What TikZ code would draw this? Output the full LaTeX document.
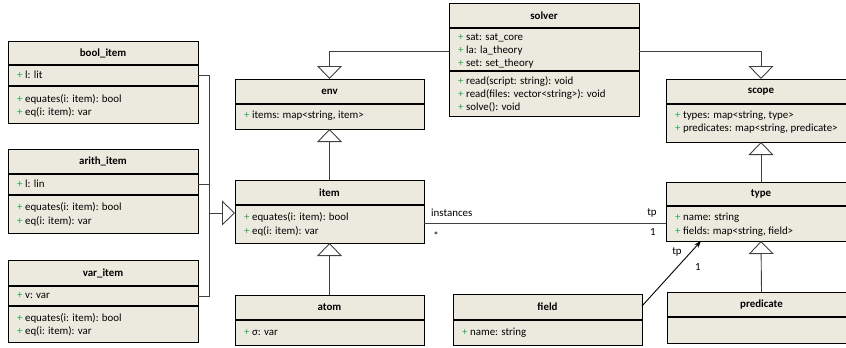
\documentclass[tikz,border=0pt]{standalone}
\usepackage{fontspec}
\setmainfont{Carlito}
\usetikzlibrary{arrows.meta,fit}

\definecolor{classbg}{HTML}{ECEADF}
\definecolor{umlgreen}{RGB}{40,170,80}
\definecolor{linkgray}{HTML}{404040}

\newcommand{\plus}{{\color{umlgreen}+}\ }

% #1 node name, #2..#5 corners, #6 header bottom, #7 class name
\newcommand{\classbox}[7]{%
  \fill[classbg] (#2,#3) rectangle (#4,#5);
  \node[inner sep=0pt, outer sep=0pt, fit={(#2,#3) (#4,#5)}] (#1) {};
  \draw[border] (#2,#3) rectangle (#4,#5);
  \draw[rule] (#2,#6) -- (#4,#6);
  \node[classtitle] at ({(#2+#4)/2},{(#3+#6)/2}) {#7};
}
% #1 x1, #2 x2, #3 y : compartment divider
\newcommand{\divider}[3]{\draw[rule] (#1,#3) -- (#2,#3);}
% #1 x, #2 y, #3 text
\newcommand{\member}[3]{\node[membertext] at (#1+9,#2) {\plus #3};}

\begin{document}
\begin{tikzpicture}[x=1pt,y=-1pt,
  border/.style={draw=black, line width=0.8pt},
  rule/.style={draw=black, line width=1.1pt},
  classtitle/.style={font=\fontsize{10.9}{12}\selectfont\bfseries, inner sep=0pt},
  membertext/.style={font=\fontsize{10.9}{12}\selectfont, anchor=west, inner sep=0pt},
  lbl/.style={font=\fontsize{10.9}{12}\selectfont, inner sep=0pt},
  link/.style={draw=linkgray, line width=0.9pt},
  gen/.style={link, -{Triangle[open, length=13pt, width=25pt, fill=white]}},
  nav/.style={link, -{Stealth[length=7pt, width=5pt]}, black},
]
\useasboundingbox (0,0) rectangle (846,348);
\clip (0,0) rectangle (846,348);
\fill[white] (0,0) rectangle (846,348);

% item subclasses on the left
\classbox{bool}{8}{41}{198}{123}{65}{bool\_item}
\divider{8}{198}{86}
\member{8}{75}{l: lit}
\member{8}{99}{equates(i: item): bool}
\member{8}{112}{eq(i: item): var}

\classbox{arith}{8}{149}{198}{233}{174}{arith\_item}
\divider{8}{198}{195}
\member{8}{184}{l: lin}
\member{8}{207}{equates(i: item): bool}
\member{8}{221}{eq(i: item): var}

\classbox{varitem}{8}{260}{198}{342}{286}{var\_item}
\divider{8}{198}{306}
\member{8}{296}{v: var}
\member{8}{318}{equates(i: item): bool}
\member{8}{331}{eq(i: item): var}

% middle column
\classbox{env}{235}{79}{424}{129}{104}{env}
\member{235}{116}{items: map<string, item>}

\classbox{item}{235}{180}{424}{243}{205}{item}
\member{235}{217}{equates(i: item): bool}
\member{235}{231}{eq(i: item): var}

\classbox{atom}{235}{295}{424}{345}{320}{atom}
\member{235}{333}{σ: var}

% solver
\classbox{solver}{449}{3}{639}{116}{28}{solver}
\divider{449}{639}{71}
\member{449}{38}{sat: sat\_core}
\member{449}{51}{la: la\_theory}
\member{449}{64}{set: set\_theory}
\member{449}{81}{read(script: string): void}
\member{449}{94}{read(files: vector<string>): void}
\member{449}{107}{solve(): void}

\classbox{field}{453}{294}{642}{345}{320}{field}
\member{453}{333}{name: string}

% right column
\classbox{scope}{666}{79}{856}{142}{104}{scope}
\member{666}{116}{types: map<string, type>}
\member{666}{129}{predicates: map<string, predicate>}

\classbox{type}{666}{182}{856}{241}{206}{type}
\member{666}{218}{name: string}
\member{666}{232}{fields: map<string, field>}

\classbox{predicate}{667}{292}{856}{343}{317}{predicate}

% generalizations
\coordinate (hub) at (209,213);
\draw[link] ([yshift=7pt]bool.east) -| (hub);
\draw[link] ([yshift=7pt]arith.east) -| (hub);
\draw[link] ([yshift=5pt]varitem.east) -| (hub);
\draw[gen] (hub) -- (hub -| item.west);

\draw[gen] (item.north) -- (env.south);
\draw[gen] (atom.north) -- (item.south);
\draw[gen] ([yshift=8.5pt]solver.west) -| (env.north);
\draw[gen] ([yshift=8.5pt]solver.east) -| (scope.north);
\draw[gen] (type.north) -- (scope.south);
\draw[gen] (predicate.north) -- (type.south);

% associations
\draw[link] ([yshift=-11.5pt]item.east) -- ([yshift=-11.5pt]type.west);
\node[lbl, anchor=west] (instlbl) at (431,213) {instances};
\node[lbl] (manylbl) at (436,236) {*};
\node[lbl] (tplbl) at (652,213) {tp};
\node[lbl] (onelbl) at (653,232) {1};

\draw[nav] ([yshift=13.5pt]field.east) -- ([xshift=-60pt]type.south);
\node[lbl] (fieldtp) at (677,252) {tp};
\node[lbl] (fieldone) at (698,267) {1};
\end{tikzpicture}
\end{document}
